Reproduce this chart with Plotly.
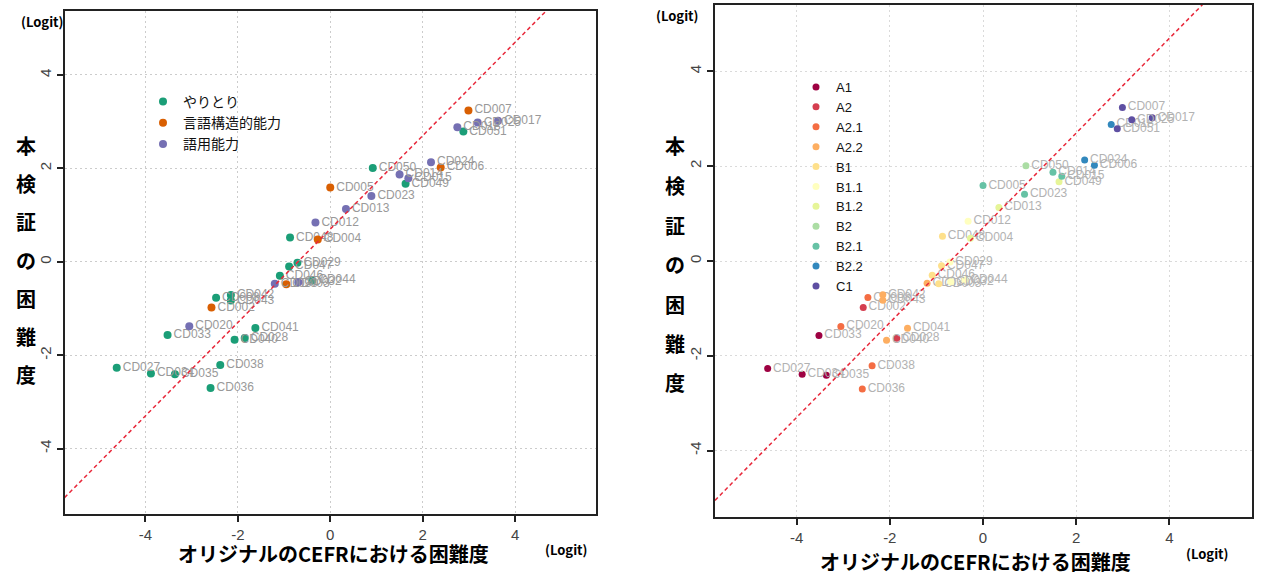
import plotly.graph_objects as go

# ---------------- data ----------------
items = ["CD007", "CD017", "CD018", "CD025", "CD051", "CD024", "CD006", "CD050",
         "CD014", "CD015", "CD049", "CD005", "CD023", "CD013", "CD012", "CD048",
         "CD004", "CD029", "CD047", "CD046", "CD030", "CD003", "CD032", "CD044",
         "CD008", "CD042", "CD043", "CD002", "CD020", "CD033", "CD041", "CD028",
         "CD040", "CD027", "CD034", "CD035", "CD038", "CD036"]
x_orig = [2.99, 3.63, 2.75, 3.19, 2.88, 2.18, 2.39, 0.92,
          1.50, 1.69, 1.63, 0.00, 0.89, 0.34, -0.32, -0.87,
          -0.27, -0.71, -0.89, -1.09, -1.20, -0.95, -0.69, -0.39,
          -2.47, -2.15, -2.15, -2.57, -3.05, -3.52, -1.62, -1.85,
          -2.07, -4.62, -3.88, -3.36, -2.38, -2.59]
y_est = [3.24, 3.02, 2.88, 2.98, 2.79, 2.13, 2.02, 2.01,
         1.87, 1.79, 1.67, 1.59, 1.41, 1.13, 0.84, 0.52,
         0.48, -0.02, -0.10, -0.30, -0.47, -0.48, -0.44, -0.40,
         -0.77, -0.71, -0.83, -0.98, -1.38, -1.57, -1.42, -1.63,
         -1.67, -2.27, -2.39, -2.41, -2.21, -2.70]
ability = ["言語構造的能力", "語用能力", "語用能力", "語用能力", "やりとり", "語用能力", "言語構造的能力", "やりとり",
           "語用能力", "語用能力", "やりとり", "言語構造的能力", "語用能力", "語用能力", "語用能力", "やりとり",
           "言語構造的能力", "やりとり", "やりとり", "やりとり", "語用能力", "言語構造的能力", "語用能力", "やりとり",
           "やりとり", "やりとり", "やりとり", "言語構造的能力", "語用能力", "やりとり", "やりとり", "やりとり",
           "やりとり", "やりとり", "やりとり", "やりとり", "やりとり", "やりとり"]
cefr = ["C1", "C1", "B2.2", "C1", "C1", "B2.2", "B2.2", "B2",
        "B2.1", "B2.1", "B1.2", "B2.1", "B2.1", "B1.2", "B1.1", "B1",
        "B1.2", "B1.1", "B1", "B1", "A2.2", "B1", "B1.1", "B1.1",
        "A2.1", "A2.2", "A2.2", "A2", "A2.1", "A1", "A2.2", "A2",
        "A2.2", "A1", "A1", "A1", "A2.1", "A2.1"]

ability_names = ["やりとり", "言語構造的能力", "語用能力"]
ability_colors = ["#1b9e77", "#d95f02", "#7570b3"]
level_names = ["A1", "A2", "A2.1", "A2.2", "B1", "B1.1", "B1.2", "B2", "B2.1", "B2.2", "C1"]
level_colors = ["#9E0142", "#D53E4F", "#F46D43", "#FDAE61", "#FEE08B", "#FFFFBF",
                "#E6F598", "#ABDDA4", "#66C2A5", "#3288BD", "#5E4FA2"]
tick_vals = [-4, -2, 0, 2, 4]
tick_text = ["-4", "-2", "0", "2", "4"]
ref_slope = 1.0
ref_intercept = 0.7

y_title_chars = ["本", "検", "証", "の", "困", "難", "度"]
x_title = "オリジナルのCEFRにおける困難度"
unit_label = "(Logit)"

# ---------------- figure ----------------
W, H = 1264, 577
fig = go.Figure()

LABEL_FONT = "Liberation Sans, Arial, sans-serif"
CJK = "Noto Sans CJK JP"

# left panel
for name, col in zip(ability_names, ability_colors):
    idx = [i for i, a in enumerate(ability) if a == name]
    fig.add_trace(go.Scatter(
        x=[x_orig[i] for i in idx], y=[y_est[i] for i in idx],
        text=[items[i] for i in idx], mode="markers+text",
        textposition="middle right",
        textfont=dict(family=LABEL_FONT, size=12, color="#999999"),
        marker=dict(color=col, size=8), name=name,
        xaxis="x", yaxis="y", legend="legend", cliponaxis=False))

# right panel
for name, col in zip(level_names, level_colors):
    idx = [i for i, a in enumerate(cefr) if a == name]
    fig.add_trace(go.Scatter(
        x=[x_orig[i] for i in idx], y=[y_est[i] for i in idx],
        text=[items[i] for i in idx], mode="markers+text",
        textposition="middle right",
        textfont=dict(family=LABEL_FONT, size=12, color="#b2b2b2"),
        marker=dict(color=col, size=7), name=name,
        xaxis="x2", yaxis="y2", legend="legend2", cliponaxis=False))

# reference lines
for xa, ya, rng in (("x", "y", [-5.75, 5.75]), ("x2", "y2", [-5.75, 5.77])):
    fig.add_trace(go.Scatter(
        x=rng, y=[ref_slope * v + ref_intercept for v in rng], mode="lines",
        line=dict(color="#e8283a", width=1.5, dash="4px,3px"),
        showlegend=False, hoverinfo="skip", xaxis=xa, yaxis=ya))

axis_common = dict(
    tickvals=tick_vals, ticktext=tick_text,
    showgrid=True, gridcolor="#cccccc", griddash="2px,3px", gridwidth=1,
    zeroline=False, showline=True, linecolor="#222", linewidth=2, mirror=True,
    ticks="outside", ticklen=6, tickwidth=1.5, tickcolor="#222",
    tickfont=dict(family=LABEL_FONT, size=15, color="#444"),
)
axis_right = {**axis_common, "gridcolor": "#dadada"}

fig.update_layout(
    width=W, height=H,
    margin=dict(l=0, r=0, t=0, b=0),
    paper_bgcolor="white", plot_bgcolor="white",
    xaxis=dict(domain=[64.5 / W, 596 / W], range=[-5.75, 5.75], anchor="y", **axis_common),
    yaxis=dict(domain=[1 - 514 / H, 1 - 11 / H], range=[-5.4, 5.37], anchor="x",
               tickangle=-90, **axis_common),
    xaxis2=dict(domain=[715 / W, 1252 / W], range=[-5.75, 5.77], anchor="y2", **axis_right),
    yaxis2=dict(domain=[1 - 517 / H, 1 - 5 / H], range=[-5.4, 5.4], anchor="x2",
                tickangle=-90, **axis_right),
    legend=dict(x=143 / W, y=1 - 86 / H, xanchor="left", yanchor="top",
                bgcolor="rgba(0,0,0,0)", borderwidth=0,
                font=dict(family=CJK, size=14, color="#111")),
    legend2=dict(x=796 / W, y=1 - 72 / H, xanchor="left", yanchor="top",
                 bgcolor="rgba(0,0,0,0)", borderwidth=0,
                 font=dict(family="Liberation Sans, Arial", size=13, color="#111")),
    showlegend=True,
)

ann = []
def add_text(x, y, text, size, anchor="center"):
    ann.append(dict(x=x / W, y=1 - y / H, xref="paper", yref="paper", text=text,
                    showarrow=False, xanchor=anchor, yanchor="middle",
                    font=dict(family=CJK, size=size, color="#000")))

# left panel texts
add_text(42, 21, "<b>" + unit_label + "</b>", 13)
add_text(566, 549, "<b>" + unit_label + "</b>", 13)
add_text(333, 553, "<b>" + x_title + "</b>", 20)
for i, ch in enumerate(y_title_chars):
    add_text(26, 146 + i * 38, "<b>" + ch + "</b>", 20)

# right panel texts
add_text(677, 15, "<b>" + unit_label + "</b>", 13)
add_text(1207, 553, "<b>" + unit_label + "</b>", 13)
add_text(975, 561, "<b>" + x_title + "</b>", 20)
for i, ch in enumerate(y_title_chars):
    add_text(675, 146 + i * 39.5, "<b>" + ch + "</b>", 20)

fig.update_layout(annotations=ann)
fig.write_html("out.html")
